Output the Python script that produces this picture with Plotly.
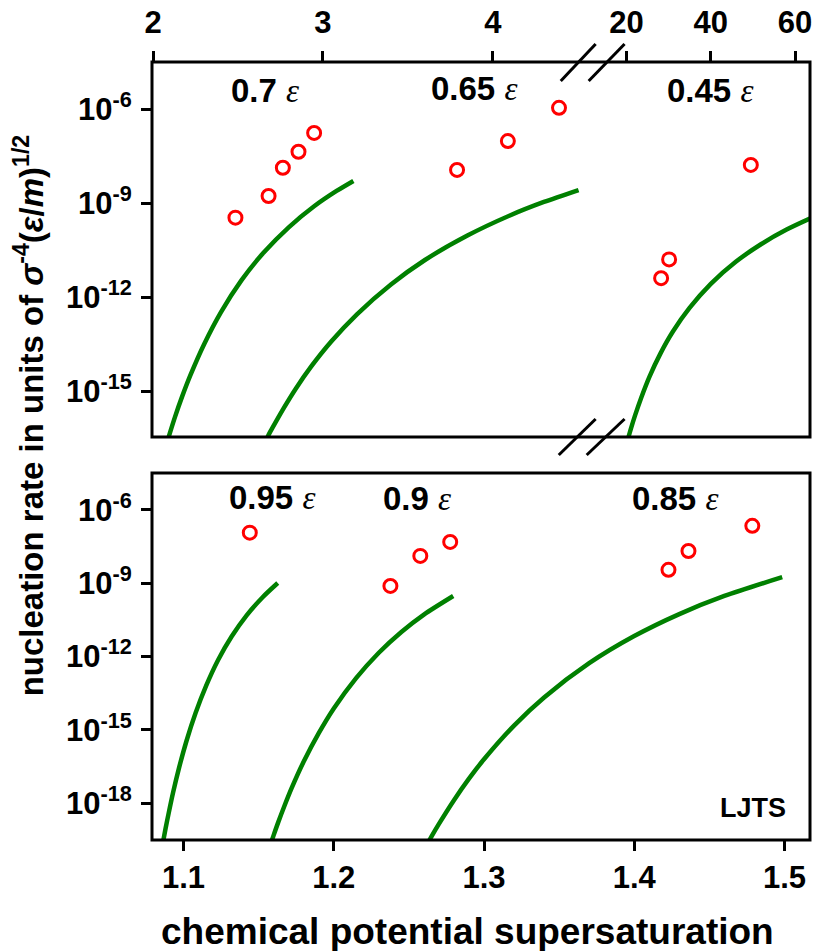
import numpy as np
import plotly.graph_objects as go

# ---------------- data (y values as log10 of nucleation rate) ----------------
# top panel, left segment
sim_07_x = [2.485, 2.680, 2.764, 2.856, 2.948]
sim_07_logJ = [-9.46, -8.77, -7.87, -7.36, -6.76]
cnt_07_x = [2.09, 2.10, 2.13, 2.17, 2.22, 2.30, 2.40, 2.52, 2.65, 2.80, 2.95, 3.08, 3.179]
cnt_07_logJ = [-16.49, -16.31, -15.80, -15.18, -14.48, -13.50, -12.47, -11.46, -10.58, -9.76, -9.09, -8.61, -8.29]

sim_065_x = [3.789, 4.088, 4.389]
sim_065_logJ = [-7.94, -7.02, -5.96]
cnt_065_x = [2.674, 2.69, 2.72, 2.77, 2.84, 2.93, 3.05, 3.20, 3.40, 3.60, 3.85, 4.10, 4.30, 4.504]
cnt_065_logJ = [-16.45, -16.28, -15.99, -15.52, -14.91, -14.21, -13.40, -12.54, -11.59, -10.81, -10.03, -9.39, -8.96, -8.58]

# top panel, right segment
sim_045_x = [28.2, 30.1, 49.5]
sim_045_logJ = [-11.39, -10.79, -7.78]
cnt_045_x = [20.4, 21, 22, 23.5, 25.5, 28, 31, 35, 40, 46, 52, 58, 64]
cnt_045_logJ = [-16.48, -16.20, -15.77, -15.19, -14.51, -13.80, -13.09, -12.33, -11.57, -10.86, -10.30, -9.84, -9.46]

# bottom panel
sim_095_x = [1.1441]
sim_095_logJ = [-6.93]
cnt_095_x = [1.0866, 1.088, 1.090, 1.093, 1.097, 1.102, 1.108, 1.115, 1.123, 1.132, 1.142, 1.1525, 1.1627]
cnt_095_logJ = [-19.50, -19.04, -18.43, -17.57, -16.55, -15.44, -14.31, -13.20, -12.14, -11.18, -10.31, -9.58, -8.99]

sim_09_x = [1.2377, 1.2576, 1.2775]
sim_09_logJ = [-9.11, -7.88, -7.31]
cnt_09_x = [1.1585, 1.160, 1.163, 1.167, 1.172, 1.18, 1.19, 1.20, 1.215, 1.23, 1.245, 1.26, 1.2795]
cnt_09_logJ = [-19.57, -19.30, -18.78, -18.13, -17.37, -16.29, -15.13, -14.12, -12.87, -11.84, -10.99, -10.28, -9.52]

sim_085_x = [1.4228, 1.4361, 1.4786]
sim_085_logJ = [-8.45, -7.68, -6.65]
cnt_085_x = [1.262, 1.265, 1.27, 1.28, 1.29, 1.30, 1.32, 1.34, 1.37, 1.40, 1.43, 1.46, 1.4985]
cnt_085_logJ = [-19.69, -19.36, -18.84, -17.87, -16.99, -16.20, -14.82, -13.67, -12.27, -11.16, -10.26, -9.52, -8.75]

bottom_xticks = [1.1, 1.2, 1.3, 1.4, 1.5]
top_left_xticks = [2, 3, 4]
top_right_xticks = [20, 40, 60]
top_yticks_exp = [-6, -9, -12, -15]
bottom_yticks_exp = [-6, -9, -12, -15, -18]

labels_top = ["0.7", "0.65", "0.45"]
labels_bottom = ["0.95", "0.9", "0.85"]

# ---------------- layout geometry (pixels) ----------------
WIDTH, HEIGHT = 817, 951
L, R, T, B = 152, 812, 62, 840
PW, PH = R - L, B - T


def fx(p):
    return (p - L) / PW


def fy(p):
    return (B - p) / PH


FONT = "Liberation Sans"
GREEN = "#008000"
RED = "#ff0000"
EPS = "<span style=\"font-family:'Liberation Serif'\"><i>ε</i></span>"

fig = go.Figure()


def add_pair(sx, sy, cx, cy, xa, ya):
    fig.add_trace(go.Scatter(x=cx, y=np.power(10.0, cy), mode="lines",
                             line=dict(color=GREEN, width=4.5, shape="spline", smoothing=0.8),
                             xaxis=xa, yaxis=ya, showlegend=False, hoverinfo="skip"))
    fig.add_trace(go.Scatter(x=sx, y=np.power(10.0, sy), mode="markers",
                             marker=dict(symbol="circle-open", size=13, color=RED,
                                         line=dict(width=3, color=RED)),
                             xaxis=xa, yaxis=ya, showlegend=False))


add_pair(sim_07_x, sim_07_logJ, cnt_07_x, cnt_07_logJ, "x2", "y2")
add_pair(sim_065_x, sim_065_logJ, cnt_065_x, cnt_065_logJ, "x2", "y2")
add_pair(sim_045_x, sim_045_logJ, cnt_045_x, cnt_045_logJ, "x3", "y2")
add_pair(sim_095_x, sim_095_logJ, cnt_095_x, cnt_095_logJ, "x", "y")
add_pair(sim_09_x, sim_09_logJ, cnt_09_x, cnt_09_logJ, "x", "y")
add_pair(sim_085_x, sim_085_logJ, cnt_085_x, cnt_085_logJ, "x", "y")

tickfont = dict(family=FONT, size=31, color="black", weight="bold")
common = dict(showgrid=False, zeroline=False, showline=False, ticks="outside",
              ticklen=10, tickwidth=3, tickcolor="black", tickfont=tickfont)

top_dom_bottom = fy(437)
bot_dom_top = fy(473)
split = fx(594)

fig.update_layout(
    width=WIDTH, height=HEIGHT,
    margin=dict(l=L, r=WIDTH - R, t=T, b=HEIGHT - B),
    paper_bgcolor="white", plot_bgcolor="white",
    showlegend=False,
    xaxis=dict(domain=[0, 1], anchor="y", range=[1.079, 1.517],
               tickvals=bottom_xticks, ticktext=[f"{v:.1f}" for v in bottom_xticks], **common),
    yaxis=dict(domain=[0, bot_dom_top], anchor="x", type="log", range=[-19.5, -4.49],
               tickvals=[10.0 ** e for e in bottom_yticks_exp], ticklabelstandoff=3,
               ticktext=[f"10<sup>{e}</sup>" for e in bottom_yticks_exp], **common),
    xaxis2=dict(domain=[0, split], anchor="y2", side="top", range=[1.994, 4.587],
                tickvals=top_left_xticks, ticklabelstandoff=6,
                ticktext=[str(v) for v in top_left_xticks], **common),
    xaxis3=dict(domain=[split, 1], anchor="y2", side="top", range=[11.95, 63.55],
                tickvals=top_right_xticks, ticklabelstandoff=6,
                ticktext=[str(v) for v in top_right_xticks], **common),
    yaxis2=dict(domain=[top_dom_bottom, 1], anchor="x2", type="log", range=[-16.45, -4.5],
                tickvals=[10.0 ** e for e in top_yticks_exp], ticklabelstandoff=3,
                ticktext=[f"10<sup>{e}</sup>" for e in top_yticks_exp], **common),
)

shapes = []
for y0, y1 in [(top_dom_bottom, 1), (0, bot_dom_top)]:
    shapes.append(dict(type="rect", xref="paper", yref="paper", x0=0, x1=1, y0=y0, y1=y1,
                       line=dict(color="black", width=3), fillcolor="rgba(0,0,0,0)", layer="above"))
for (x0, y0, x1, y1) in [(562, 81, 597, 44), (590, 81, 626, 44),
                         (560, 455, 597, 419), (588, 455, 626, 419)]:
    shapes.append(dict(type="line", xref="paper", yref="paper",
                       x0=fx(x0), y0=fy(y0), x1=fx(x1), y1=fy(y1),
                       line=dict(color="black", width=3), layer="above"))
fig.update_layout(shapes=shapes)

ann_font = dict(family=FONT, size=33, color="black")
anns = []
for txt, (px, py) in zip(labels_top, [(265, 90), (475, 88), (712, 90)]):
    anns.append(dict(text=f"<b>{txt}</b> {EPS}", x=fx(px), y=fy(py), xref="paper", yref="paper",
                     showarrow=False, xanchor="center", yanchor="middle", font=ann_font))
for txt, (px, py) in zip(labels_bottom, [(272, 497), (418, 498), (677, 498)]):
    anns.append(dict(text=f"<b>{txt}</b> {EPS}", x=fx(px), y=fy(py), xref="paper", yref="paper",
                     showarrow=False, xanchor="center", yanchor="middle", font=ann_font))
anns.append(dict(text="<b>LJTS</b>", x=fx(755), y=fy(808), xref="paper", yref="paper",
                 showarrow=False, xanchor="center", yanchor="middle",
                 font=dict(family=FONT, size=27, color="black")))
anns.append(dict(text="<b>chemical potential supersaturation</b>", x=fx(468), y=fy(931),
                 xref="paper", yref="paper", showarrow=False, xanchor="center", yanchor="middle",
                 font=dict(family=FONT, size=37, color="black")))
anns.append(dict(text="<b>nucleation rate in units of <i>σ</i><sup>-4</sup>(<i>ε</i>/<i>m</i>)<sup>1/2</sup></b>",
                 x=fx(29), y=fy(415), xref="paper", yref="paper", textangle=-90,
                 showarrow=False, xanchor="center", yanchor="middle",
                 font=dict(family=FONT, size=33, color="black")))
fig.update_layout(annotations=anns)

fig.write_html("out.html")
